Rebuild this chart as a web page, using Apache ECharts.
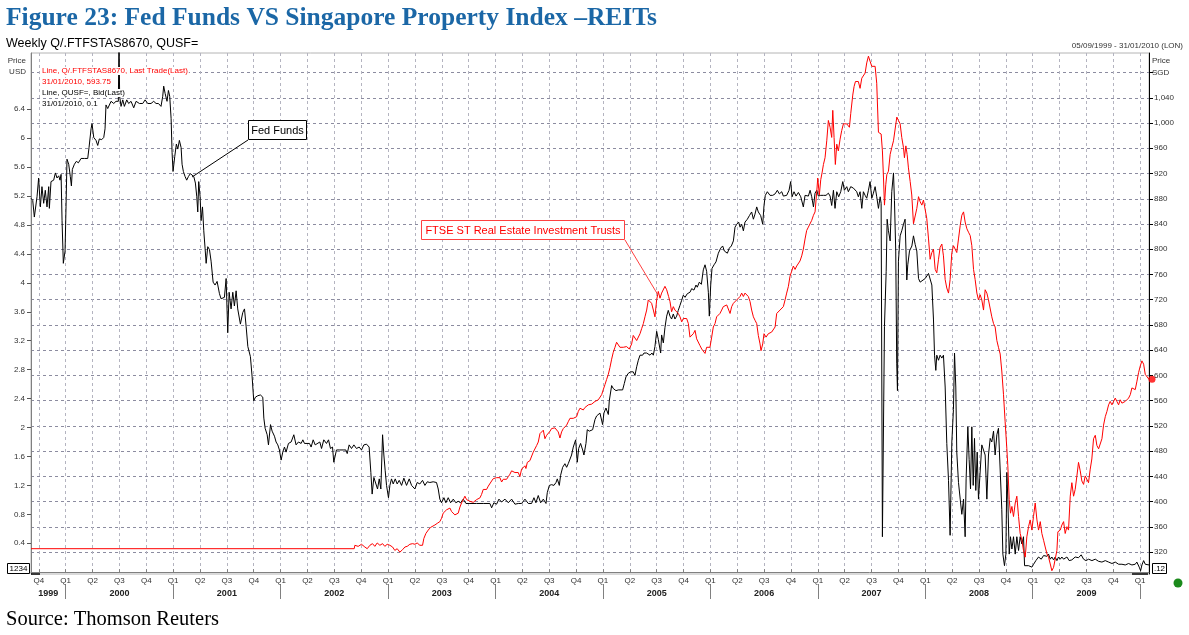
<!DOCTYPE html>
<html><head><meta charset="utf-8">
<script src="https://cdn.jsdelivr.net/npm/echarts@6/dist/echarts.min.js"></script>
<style>html,body{margin:0;padding:0;background:#fff}#c{width:1189px;height:635px}</style>
</head><body><div id="c"></div>
<script>
// Fed Funds (QUSF=, Bid) weekly, [decimal year, %]
const fedFunds = [
[1999.677,5.17],[1999.693,5.14],[1999.708,4.91],[1999.733,5.19],[1999.748,5.45],[1999.764,5.05],[1999.779,5.33],[1999.795,5.10],[1999.810,5.28],[1999.826,5.05],[1999.842,5.33],[1999.848,5.03],[1999.863,5.40],[1999.888,5.42],[1999.904,5.52],[1999.919,5.45],[1999.935,5.48],[1999.947,5.42],[1999.957,5.50],[1999.966,4.86],[1999.978,4.27],[1999.994,4.44],
[2000.003,5.05],[2000.012,5.71],[2000.028,5.64],[2000.043,5.47],[2000.053,5.34],[2000.062,5.57],[2000.081,5.64],[2000.099,5.68],[2000.118,5.66],[2000.143,5.72],[2000.174,5.72],[2000.205,5.72],[2000.217,5.87],[2000.236,6.13],[2000.245,6.20],[2000.261,6.01],[2000.282,5.97],[2000.298,5.90],[2000.313,5.99],[2000.335,5.98],[2000.354,6.01],[2000.366,6.13],[2000.375,6.46],[2000.391,6.41],[2000.422,6.51],[2000.447,6.48],[2000.468,6.51],[2000.490,6.51],[2000.496,7.40],[2000.502,6.58],[2000.515,6.44],[2000.531,6.53],[2000.546,6.44],[2000.568,6.53],[2000.586,6.48],[2000.608,6.51],[2000.633,6.42],[2000.655,6.51],[2000.686,6.48],[2000.717,6.48],[2000.739,6.53],[2000.763,6.48],[2000.794,6.48],[2000.819,6.51],[2000.841,6.48],[2000.863,6.48],[2000.887,6.44],[2000.903,6.58],[2000.912,6.72],[2000.925,6.62],[2000.943,6.51],[2000.956,6.66],[2000.968,6.58],[2000.981,6.27],[2000.990,5.80],[2000.999,5.54],
[2001.015,5.75],[2001.030,5.92],[2001.043,5.85],[2001.058,5.97],[2001.074,5.87],[2001.083,5.64],[2001.095,5.54],[2001.111,5.47],[2001.126,5.42],[2001.142,5.47],[2001.160,5.51],[2001.176,5.53],[2001.192,5.47],[2001.207,5.38],[2001.220,5.19],[2001.229,4.98],[2001.238,5.40],[2001.251,5.19],[2001.260,4.86],[2001.273,5.05],[2001.285,4.72],[2001.297,4.48],[2001.307,4.27],[2001.322,4.50],[2001.338,4.46],[2001.353,4.30],[2001.372,4.01],[2001.390,3.97],[2001.409,4.02],[2001.431,3.85],[2001.446,3.78],[2001.477,3.80],[2001.493,4.06],[2001.508,3.31],[2001.521,3.87],[2001.539,3.64],[2001.555,3.87],[2001.570,3.68],[2001.586,3.89],[2001.601,3.64],[2001.626,3.43],[2001.648,3.59],[2001.664,3.64],[2001.679,3.40],[2001.695,3.12],[2001.719,2.98],[2001.735,2.70],[2001.750,2.37],[2001.766,2.42],[2001.788,2.44],[2001.812,2.45],[2001.834,2.42],[2001.844,2.13],[2001.856,1.99],[2001.875,1.90],[2001.887,1.76],[2001.906,2.04],[2001.921,1.95],[2001.943,1.88],[2001.958,1.80],[2001.974,1.76],[2001.989,1.69],
[2002.005,1.55],[2002.020,1.66],[2002.036,1.73],[2002.051,1.66],[2002.073,1.78],[2002.098,1.80],[2002.123,1.90],[2002.144,1.76],[2002.166,1.80],[2002.191,1.78],[2002.207,1.83],[2002.222,1.78],[2002.238,1.80],[2002.269,1.78],[2002.284,1.73],[2002.303,1.83],[2002.322,1.76],[2002.340,1.76],[2002.365,1.80],[2002.381,1.71],[2002.402,1.83],[2002.427,1.78],[2002.446,1.83],[2002.464,1.71],[2002.483,1.73],[2002.495,1.52],[2002.520,1.69],[2002.551,1.69],[2002.582,1.69],[2002.607,1.69],[2002.620,1.64],[2002.638,1.76],[2002.660,1.71],[2002.682,1.76],[2002.706,1.71],[2002.731,1.73],[2002.753,1.69],[2002.775,1.76],[2002.800,1.77],[2002.824,1.73],[2002.840,1.38],[2002.852,1.08],[2002.868,1.31],[2002.886,1.29],[2002.902,1.15],[2002.918,1.29],[2002.933,1.15],[2002.949,1.90],[2002.961,1.62],[2002.973,1.41],[2002.986,1.20],
[2003.004,1.03],[2003.017,1.20],[2003.032,1.29],[2003.048,1.22],[2003.067,1.29],[2003.085,1.22],[2003.104,1.27],[2003.126,1.20],[2003.147,1.30],[2003.172,1.20],[2003.197,1.29],[2003.219,1.20],[2003.250,1.15],[2003.271,1.24],[2003.296,1.22],[2003.321,1.27],[2003.343,1.20],[2003.365,1.25],[2003.389,1.24],[2003.420,1.25],[2003.451,1.24],[2003.467,1.15],[2003.482,1.01],[2003.498,0.96],[2003.520,1.03],[2003.538,0.96],[2003.560,1.03],[2003.582,0.96],[2003.607,1.01],[2003.631,0.96],[2003.653,0.98],[2003.675,0.96],[2003.700,1.01],[2003.725,0.95],[2003.762,0.95],[2003.824,0.95],[2003.886,0.95],[2003.948,0.95],[2003.964,0.89],[2003.985,0.96],
[2004.010,0.94],[2004.032,1.01],[2004.057,0.97],[2004.088,1.01],[2004.119,0.96],[2004.150,1.01],[2004.181,0.94],[2004.212,0.95],[2004.243,0.95],[2004.274,1.01],[2004.305,0.95],[2004.336,0.95],[2004.358,1.03],[2004.376,0.96],[2004.398,1.06],[2004.420,0.96],[2004.445,1.01],[2004.470,0.95],[2004.482,1.10],[2004.501,1.20],[2004.522,1.21],[2004.544,1.20],[2004.563,1.24],[2004.575,1.29],[2004.594,1.20],[2004.606,1.34],[2004.625,1.45],[2004.646,1.50],[2004.662,1.45],[2004.677,1.50],[2004.693,1.52],[2004.708,1.62],[2004.724,1.73],[2004.746,1.83],[2004.761,1.52],[2004.774,1.71],[2004.792,1.78],[2004.811,1.69],[2004.823,1.62],[2004.842,1.78],[2004.854,1.97],[2004.873,1.95],[2004.904,1.97],[2004.926,2.11],[2004.941,2.16],[2004.972,2.20],[2004.997,2.04],
[2005.009,2.20],[2005.028,2.27],[2005.050,2.18],[2005.059,2.37],[2005.081,2.58],[2005.096,2.54],[2005.121,2.51],[2005.143,2.52],[2005.183,2.52],[2005.199,2.61],[2005.214,2.70],[2005.236,2.75],[2005.258,2.77],[2005.282,2.77],[2005.298,2.72],[2005.314,2.84],[2005.329,2.93],[2005.345,3.00],[2005.369,3.00],[2005.382,3.03],[2005.407,3.03],[2005.438,3.00],[2005.456,3.03],[2005.469,3.00],[2005.484,3.12],[2005.500,3.33],[2005.515,3.22],[2005.525,3.22],[2005.537,3.03],[2005.546,3.28],[2005.562,3.17],[2005.577,3.38],[2005.593,3.54],[2005.608,3.62],[2005.624,3.54],[2005.639,3.50],[2005.655,3.57],[2005.670,3.50],[2005.686,3.54],[2005.701,3.62],[2005.717,3.69],[2005.733,3.76],[2005.748,3.83],[2005.764,3.80],[2005.785,3.85],[2005.810,3.87],[2005.826,3.92],[2005.847,3.90],[2005.866,3.97],[2005.878,3.94],[2005.897,4.01],[2005.916,3.98],[2005.934,4.18],[2005.950,4.25],[2005.965,4.16],[2005.981,3.87],[2005.990,3.54],
[2006.003,3.97],[2006.015,4.20],[2006.034,4.25],[2006.052,4.29],[2006.074,4.41],[2006.096,4.48],[2006.114,4.51],[2006.130,4.44],[2006.145,4.46],[2006.158,4.41],[2006.176,4.48],[2006.195,4.51],[2006.214,4.58],[2006.229,4.77],[2006.245,4.81],[2006.263,4.84],[2006.276,4.77],[2006.291,4.81],[2006.307,4.72],[2006.322,4.84],[2006.344,4.88],[2006.363,4.93],[2006.384,4.98],[2006.400,4.88],[2006.415,4.95],[2006.431,5.05],[2006.446,4.98],[2006.468,4.93],[2006.487,4.81],[2006.499,5.07],[2006.511,5.21],[2006.530,5.26],[2006.555,5.21],[2006.580,5.21],[2006.602,5.23],[2006.623,5.28],[2006.642,5.23],[2006.664,5.26],[2006.679,5.20],[2006.710,5.21],[2006.732,5.28],[2006.747,5.40],[2006.760,5.19],[2006.778,5.26],[2006.797,5.20],[2006.819,5.25],[2006.841,5.19],[2006.865,5.05],[2006.881,5.21],[2006.896,5.19],[2006.912,5.20],[2006.928,5.28],[2006.943,5.19],[2006.959,5.05],[2006.974,5.24],[2006.990,5.28],
[2007.005,5.20],[2007.027,5.21],[2007.052,5.21],[2007.076,5.21],[2007.098,5.24],[2007.114,5.20],[2007.129,5.07],[2007.145,5.28],[2007.160,5.03],[2007.176,5.26],[2007.194,5.19],[2007.213,5.26],[2007.232,5.40],[2007.247,5.28],[2007.269,5.33],[2007.284,5.26],[2007.306,5.33],[2007.331,5.31],[2007.346,5.33],[2007.362,5.26],[2007.377,5.19],[2007.393,5.26],[2007.409,5.03],[2007.424,5.26],[2007.440,5.21],[2007.455,5.17],[2007.471,5.28],[2007.486,5.40],[2007.502,5.17],[2007.517,5.24],[2007.533,5.33],[2007.548,5.19],[2007.564,5.03],[2007.580,5.19],[2007.589,5.10],[2007.601,0.49],[2007.620,3.40],[2007.636,4.16],[2007.645,4.88],[2007.657,4.72],[2007.673,4.58],[2007.688,5.26],[2007.704,5.52],[2007.713,5.14],[2007.725,4.44],[2007.734,2.89],[2007.741,2.51],[2007.750,4.30],[2007.766,4.65],[2007.781,4.72],[2007.797,4.81],[2007.812,4.88],[2007.828,4.04],[2007.837,4.25],[2007.853,4.44],[2007.875,4.51],[2007.890,4.65],[2007.906,4.53],[2007.921,4.44],[2007.937,4.06],[2007.952,4.01],[2007.968,4.01],[2007.999,4.06],
[2008.030,4.13],[2008.045,4.13],[2008.061,3.97],[2008.076,3.50],[2008.086,3.00],[2008.098,2.79],[2008.107,3.00],[2008.123,2.93],[2008.138,3.00],[2008.154,2.96],[2008.169,3.00],[2008.185,2.56],[2008.200,1.78],[2008.216,1.27],[2008.231,0.51],[2008.247,1.80],[2008.262,2.25],[2008.272,3.03],[2008.284,2.56],[2008.293,1.66],[2008.309,1.24],[2008.325,1.01],[2008.340,0.80],[2008.356,1.01],[2008.371,0.49],[2008.380,1.29],[2008.396,2.01],[2008.408,1.56],[2008.421,1.15],[2008.433,2.01],[2008.446,1.20],[2008.458,1.85],[2008.470,1.13],[2008.483,1.66],[2008.495,1.01],[2008.511,1.01],[2008.526,1.76],[2008.542,1.76],[2008.557,1.62],[2008.573,1.01],[2008.588,1.62],[2008.604,1.85],[2008.619,1.80],[2008.635,1.95],[2008.650,1.62],[2008.666,1.90],[2008.681,1.99],[2008.697,2.01],[2008.712,0.87],[2008.722,0.25],[2008.737,0.09],[2008.750,0.25],[2008.759,1.38],[2008.768,1.01],[2008.781,0.25],[2008.793,0.49],[2008.806,0.32],[2008.821,0.49],[2008.837,0.25],[2008.852,0.49],[2008.868,0.30],[2008.883,0.49],[2008.899,0.39],[2008.914,0.49],[2008.924,0.09],[2008.961,0.09],[2008.992,0.07],
[2009.008,0.11],[2009.029,0.16],[2009.054,0.21],[2009.079,0.18],[2009.101,0.23],[2009.116,0.25],[2009.132,0.22],[2009.147,0.25],[2009.163,0.18],[2009.178,0.21],[2009.194,0.17],[2009.209,0.21],[2009.225,0.16],[2009.240,0.21],[2009.256,0.18],[2009.271,0.21],[2009.287,0.18],[2009.302,0.16],[2009.318,0.21],[2009.339,0.16],[2009.364,0.17],[2009.395,0.21],[2009.426,0.20],[2009.451,0.24],[2009.473,0.18],[2009.495,0.16],[2009.520,0.18],[2009.551,0.16],[2009.582,0.18],[2009.613,0.15],[2009.644,0.14],[2009.675,0.16],[2009.706,0.14],[2009.737,0.12],[2009.768,0.14],[2009.799,0.11],[2009.830,0.11],[2009.861,0.10],[2009.892,0.12],[2009.923,0.10],[2009.954,0.11],[2009.969,0.14],[2009.991,0.07],[2010.004,0.02],[2010.016,0.10],[2010.032,0.16],[2010.047,0.11],[2010.063,0.10],[2010.082,0.10]
];

// FTSE ST Real Estate Investment Trusts (Q/.FTFSTAS8670) weekly, [decimal year, SGD]
const reitIndex = [
[1999.677,325.4],[2002.685,325.4],[2002.691,330.8],[2002.722,329.1],[2002.753,332.4],[2002.784,328.1],[2002.806,325.4],[2002.831,330.8],[2002.855,333.4],[2002.877,329.1],[2002.899,334.5],[2002.924,330.8],[2002.949,333.4],[2002.970,329.1],[2002.992,332.4],
[2003.017,330.8],[2003.042,328.1],[2003.063,322.7],[2003.085,325.4],[2003.110,320.0],[2003.135,323.8],[2003.157,328.1],[2003.178,329.1],[2003.203,332.4],[2003.228,333.4],[2003.250,332.4],[2003.271,334.5],[2003.296,330.8],[2003.321,330.8],[2003.333,341.5],[2003.352,349.5],[2003.374,354.9],[2003.396,359.2],[2003.414,360.3],[2003.436,363.0],[2003.458,365.6],[2003.482,368.3],[2003.498,373.7],[2003.513,381.7],[2003.529,379.0],[2003.545,387.1],[2003.560,386.0],[2003.576,389.8],[2003.591,384.4],[2003.607,381.7],[2003.622,379.0],[2003.638,376.4],[2003.653,381.7],[2003.669,391.4],[2003.684,397.8],[2003.700,403.2],[2003.715,408.6],[2003.731,403.2],[2003.746,405.9],[2003.762,400.5],[2003.777,402.1],[2003.793,398.9],[2003.808,400.5],[2003.824,403.2],[2003.839,402.1],[2003.855,405.9],[2003.870,411.2],[2003.886,419.3],[2003.902,422.0],[2003.917,419.3],[2003.933,424.6],[2003.948,427.3],[2003.964,432.7],[2003.979,436.4],[2003.995,435.4],
[2004.010,438.0],[2004.026,435.4],[2004.041,438.0],[2004.057,431.1],[2004.072,435.4],[2004.088,432.7],[2004.103,435.4],[2004.119,439.6],[2004.134,443.4],[2004.150,448.8],[2004.165,451.5],[2004.181,446.1],[2004.196,443.4],[2004.212,446.1],[2004.227,439.6],[2004.243,451.5],[2004.258,454.1],[2004.274,456.8],[2004.283,452.5],[2004.296,462.2],[2004.308,459.5],[2004.320,464.9],[2004.336,467.6],[2004.351,478.3],[2004.367,481.0],[2004.383,489.0],[2004.398,494.4],[2004.414,507.8],[2004.429,505.1],[2004.445,513.2],[2004.460,499.7],[2004.476,505.1],[2004.491,507.8],[2004.507,511.5],[2004.522,515.8],[2004.538,513.2],[2004.553,516.9],[2004.569,515.8],[2004.584,510.5],[2004.600,500.8],[2004.615,510.5],[2004.631,515.8],[2004.646,518.5],[2004.662,521.2],[2004.677,526.6],[2004.693,532.0],[2004.708,534.6],[2004.724,532.0],[2004.739,529.3],[2004.755,534.6],[2004.770,542.7],[2004.786,548.0],[2004.801,550.7],[2004.817,545.3],[2004.832,549.1],[2004.848,548.0],[2004.864,553.4],[2004.879,550.7],[2004.895,554.5],[2004.910,553.4],[2004.926,558.8],[2004.941,556.1],[2004.957,561.4],[2004.972,564.1],[2004.988,569.5],
[2005.003,577.5],[2005.019,585.6],[2005.034,593.6],[2005.050,601.7],[2005.065,612.4],[2005.081,625.8],[2005.096,636.6],[2005.112,644.6],[2005.127,652.6],[2005.143,649.9],[2005.158,644.6],[2005.174,647.3],[2005.189,644.6],[2005.205,647.3],[2005.220,645.7],[2005.236,647.3],[2005.245,641.9],[2005.258,639.2],[2005.267,649.9],[2005.282,663.4],[2005.298,660.7],[2005.314,655.3],[2005.329,658.0],[2005.345,666.1],[2005.360,674.1],[2005.376,682.2],[2005.391,692.9],[2005.407,703.6],[2005.422,719.7],[2005.438,722.4],[2005.453,714.3],[2005.469,703.6],[2005.484,692.9],[2005.500,719.7],[2005.515,733.1],[2005.531,722.4],[2005.546,730.5],[2005.562,727.8],[2005.577,741.2],[2005.593,735.8],[2005.602,738.5],[2005.611,725.1],[2005.624,717.0],[2005.639,700.9],[2005.655,709.0],[2005.670,703.6],[2005.686,706.3],[2005.701,698.2],[2005.717,692.9],[2005.733,684.9],[2005.748,690.2],[2005.764,687.5],[2005.779,690.2],[2005.795,682.2],[2005.810,660.7],[2005.826,658.0],[2005.841,666.1],[2005.857,671.4],[2005.872,658.0],[2005.888,655.3],[2005.903,647.3],[2005.919,641.9],[2005.934,639.2],[2005.950,634.9],[2005.965,644.6],[2005.981,641.9],[2005.996,644.6],
[2006.012,660.7],[2006.027,676.8],[2006.043,682.2],[2006.058,692.9],[2006.074,690.2],[2006.089,698.2],[2006.105,703.6],[2006.120,709.0],[2006.136,706.3],[2006.152,711.7],[2006.167,714.3],[2006.183,698.2],[2006.198,709.0],[2006.214,714.3],[2006.229,717.0],[2006.245,719.7],[2006.260,722.4],[2006.276,725.1],[2006.291,730.5],[2006.307,725.1],[2006.322,730.5],[2006.338,727.8],[2006.353,725.1],[2006.369,717.0],[2006.384,703.6],[2006.400,692.9],[2006.415,687.5],[2006.431,682.2],[2006.446,663.4],[2006.462,649.9],[2006.471,639.2],[2006.487,649.9],[2006.499,666.1],[2006.518,660.7],[2006.539,666.1],[2006.555,663.4],[2006.570,668.7],[2006.586,671.4],[2006.602,676.8],[2006.617,698.2],[2006.633,700.9],[2006.648,703.6],[2006.664,700.9],[2006.679,709.0],[2006.695,719.7],[2006.710,730.5],[2006.726,741.2],[2006.741,757.3],[2006.757,765.3],[2006.772,773.4],[2006.788,768.0],[2006.803,773.4],[2006.819,776.0],[2006.834,781.4],[2006.850,789.5],[2006.865,800.2],[2006.881,816.3],[2006.896,829.7],[2006.912,835.1],[2006.928,837.7],[2006.943,845.8],[2006.959,853.8],[2006.974,859.2],[2006.990,891.4],
[2006.999,912.9],[2007.014,886.0],[2007.027,910.2],[2007.039,920.9],[2007.052,934.3],[2007.067,945.0],[2007.083,971.9],[2007.098,1004.1],[2007.114,993.3],[2007.129,977.2],[2007.139,1020.1],[2007.151,977.2],[2007.163,934.3],[2007.176,966.5],[2007.191,955.8],[2007.207,974.5],[2007.222,988.0],[2007.238,998.7],[2007.253,996.0],[2007.269,998.7],[2007.284,997.6],[2007.294,993.3],[2007.306,1014.8],[2007.325,1044.3],[2007.337,1057.7],[2007.350,1065.8],[2007.362,1063.1],[2007.377,1065.8],[2007.393,1055.0],[2007.409,1071.1],[2007.424,1073.8],[2007.440,1079.2],[2007.455,1095.3],[2007.471,1106.0],[2007.486,1097.9],[2007.502,1089.9],[2007.517,1092.6],[2007.533,1089.9],[2007.548,1063.1],[2007.564,985.3],[2007.589,982.6],[2007.601,955.8],[2007.611,912.9],[2007.620,869.9],[2007.632,902.1],[2007.642,918.2],[2007.657,923.6],[2007.673,950.4],[2007.688,961.1],[2007.704,971.9],[2007.719,974.5],[2007.735,1009.4],[2007.750,1004.1],[2007.766,998.7],[2007.781,977.2],[2007.797,961.1],[2007.806,945.0],[2007.819,963.8],[2007.831,950.4],[2007.843,928.9],[2007.859,907.5],[2007.874,886.0],[2007.890,840.4],[2007.906,843.1],[2007.921,864.6],[2007.937,883.3],[2007.952,875.3],[2007.968,869.9],[2007.983,878.0],[2007.999,875.3],
[2008.014,848.5],[2008.030,816.3],[2008.045,784.1],[2008.061,794.8],[2008.076,800.2],[2008.092,768.0],[2008.107,762.6],[2008.123,784.1],[2008.138,802.9],[2008.154,808.2],[2008.169,789.5],[2008.185,751.9],[2008.200,738.5],[2008.216,730.5],[2008.231,751.9],[2008.247,794.8],[2008.262,805.6],[2008.278,800.2],[2008.293,794.8],[2008.309,816.3],[2008.325,837.7],[2008.340,853.8],[2008.356,859.2],[2008.371,843.1],[2008.387,832.4],[2008.402,827.0],[2008.418,821.6],[2008.433,805.6],[2008.449,768.0],[2008.464,751.9],[2008.480,730.5],[2008.495,719.7],[2008.511,727.8],[2008.526,719.7],[2008.542,703.6],[2008.557,735.8],[2008.573,730.5],[2008.588,719.7],[2008.604,722.4],[2008.619,692.9],[2008.635,682.2],[2008.650,676.8],[2008.666,655.3],[2008.681,644.6],[2008.697,633.9],[2008.712,607.0],[2008.728,569.5],[2008.743,526.6],[2008.759,483.7],[2008.768,456.8],[2008.781,403.2],[2008.793,381.7],[2008.806,392.4],[2008.821,376.4],[2008.837,397.8],[2008.852,408.6],[2008.868,376.4],[2008.883,349.5],[2008.899,338.8],[2008.914,322.7],[2008.930,312.0],[2008.945,344.2],[2008.961,360.3],[2008.976,371.0],[2008.992,354.9],
[2009.007,376.4],[2009.023,397.8],[2009.039,371.0],[2009.054,354.9],[2009.070,368.3],[2009.085,349.5],[2009.101,338.8],[2009.116,328.1],[2009.132,317.3],[2009.147,312.0],[2009.163,301.2],[2009.178,290.5],[2009.194,295.9],[2009.209,293.2],[2009.225,322.7],[2009.234,352.2],[2009.256,354.9],[2009.271,362.9],[2009.287,368.3],[2009.302,349.5],[2009.318,360.3],[2009.333,354.9],[2009.349,408.6],[2009.364,430.0],[2009.380,408.6],[2009.395,419.3],[2009.411,440.7],[2009.426,462.2],[2009.442,448.8],[2009.457,432.7],[2009.473,427.3],[2009.488,440.7],[2009.504,435.4],[2009.519,430.0],[2009.535,451.5],[2009.550,467.6],[2009.566,499.7],[2009.582,505.1],[2009.597,489.0],[2009.613,483.7],[2009.628,483.7],[2009.644,499.7],[2009.659,521.2],[2009.675,534.6],[2009.690,542.7],[2009.706,553.4],[2009.721,558.8],[2009.737,553.4],[2009.752,550.7],[2009.768,564.1],[2009.783,558.8],[2009.799,553.4],[2009.814,561.4],[2009.830,556.1],[2009.845,553.4],[2009.861,558.8],[2009.876,558.8],[2009.892,564.1],[2009.908,569.5],[2009.923,580.2],[2009.939,582.9],[2009.954,577.5],[2009.970,590.9],[2009.985,604.4],[2010.001,615.1],[2010.016,623.1],[2010.032,617.8],[2010.047,601.7],[2010.082,593.75]
];

// tick labels
const leftTicks = [0.4,0.8,1.2,1.6,2,2.4,2.8,3.2,3.6,4,4.4,4.8,5.2,5.6,6,6.4];
const rightTicks = [320,360,400,440,480,520,560,600,640,680,720,760,800,840,880,920,960,1000,1040,1080];
const rightLabelled = [320,360,400,440,480,520,560,600,640,680,720,760,800,840,880,920,960,1000,1040];
const quarterNames = ['Q1','Q2','Q3','Q4'];
const yearNames = ['1999','2000','2001','2002','2003','2004','2005','2006','2007','2008','2009'];
const legendLines = [
  {text:'Line, Q/.FTFSTAS8670, Last Trade(Last)', color:'#ff0000'},
  {text:'31/01/2010, 593.75', color:'#ff0000'},
  {text:'Line, QUSF=, Bid(Last)', color:'#000000'},
  {text:'31/01/2010, 0.1', color:'#000000'}
];

const xStart = fedFunds[0][0];
const xEnd = fedFunds[fedFunds.length - 1][0];
const quarterTicks = [];
yearNames.concat(['2010']).forEach(function (y) {
  for (let q = 0; q < 4; q++) {
    const v = Number(y) + q / 4;
    if (v >= xStart && v <= xEnd) quarterTicks.push(v);
  }
});
const yearTicks = yearNames.slice(1).map(Number).concat([2010]);
const yearLabelPos = yearNames.map(function (y) {
  const s = Math.max(Number(y), xStart), e = Math.min(Number(y) + 1, xEnd);
  return (s + e) / 2;
});

const LBL = '"Liberation Sans", Arial, sans-serif';
const chart = echarts.init(document.getElementById('c'), null, {renderer: 'canvas'});

const graphics = [
  {type:'text', x:6, y:18, style:{text:'Figure 23: Fed Funds VS Singapore Property Index \u2013REITs', font:'bold 25.5px "Liberation Serif", "Times New Roman", serif', fill:'#1b67a6', verticalAlign:'middle'}},
  {type:'text', x:6, y:44, style:{text:'Weekly Q/.FTFSTAS8670, QUSF=', font:'12.5px ' + LBL, fill:'#000', verticalAlign:'middle'}},
  {type:'text', x:1183, y:46, style:{text:'05/09/1999 - 31/01/2010 (LON)', font:'8px ' + LBL, fill:'#333', align:'right', verticalAlign:'middle'}},
  {type:'text', x:26, y:61, style:{text:'Price', font:'8px ' + LBL, fill:'#333', align:'right', verticalAlign:'middle'}},
  {type:'text', x:26, y:72, style:{text:'USD', font:'8px ' + LBL, fill:'#333', align:'right', verticalAlign:'middle'}},
  {type:'text', x:1152, y:61, style:{text:'Price', font:'8px ' + LBL, fill:'#333', verticalAlign:'middle'}},
  {type:'text', x:1152, y:73, style:{text:'SGD', font:'8px ' + LBL, fill:'#333', verticalAlign:'middle'}},
  // annotation: Fed Funds
  {type:'line', shape:{x1:248, y1:140, x2:192, y2:177}, style:{stroke:'#000', lineWidth:1}, z:20},
  {type:'rect', shape:{x:248.5, y:120.5, width:58, height:19}, style:{fill:'#fff', stroke:'#000', lineWidth:1}, z:21},
  {type:'text', x:277.5, y:130.5, style:{text:'Fed Funds', font:'11px ' + LBL, fill:'#000', align:'center', verticalAlign:'middle'}, z:22},
  // annotation: REITs
  {type:'line', shape:{x1:625, y1:240, x2:658, y2:295}, style:{stroke:'#ff4040', lineWidth:1}, z:20},
  {type:'rect', shape:{x:421.5, y:220.5, width:203, height:19}, style:{fill:'#fff', stroke:'#ff4040', lineWidth:1}, z:21},
  {type:'text', x:523, y:230.5, style:{text:'FTSE ST Real Estate Investment Trusts', font:'11px ' + LBL, fill:'#ff0000', align:'center', verticalAlign:'middle'}, z:22},
  // corner boxes
  {type:'rect', shape:{x:7.5, y:563.5, width:22, height:10}, style:{fill:'#fff', stroke:'#000', lineWidth:1}, z:21},
  {type:'text', x:18.5, y:569, style:{text:'1234', font:'8px ' + LBL, fill:'#000', align:'center', verticalAlign:'middle'}, z:22},
  {type:'rect', shape:{x:1152.5, y:563.5, width:14, height:10}, style:{fill:'#fff', stroke:'#000', lineWidth:1}, z:21},
  {type:'text', x:1159.5, y:569, style:{text:'.12', font:'8px ' + LBL, fill:'#000', align:'center', verticalAlign:'middle'}, z:22},
  {type:'line', shape:{x1:31, y1:574, x2:40, y2:574}, style:{stroke:'#000', lineWidth:1.5}, z:20},
  {type:'line', shape:{x1:1132, y1:574, x2:1148, y2:574}, style:{stroke:'#000', lineWidth:1.5}, z:20},
  {type:'circle', shape:{cx:1178, cy:583, r:4.5}, style:{fill:'#1b8a1b'}, z:20},
  {type:'text', x:6, y:620, style:{text:'Source: Thomson Reuters', font:'20.5px "Liberation Serif", "Times New Roman", serif', fill:'#000', verticalAlign:'middle'}}
];
legendLines.forEach(function (l, i) {
  graphics.push({type:'text', x:41, y:71 + i * 11, z:19,
    style:{text:l.text, font:'8px ' + LBL, fill:l.color, verticalAlign:'middle', backgroundColor:'#fff', padding:[0,1]}});
});

function fmtRight(v) {
  if (rightLabelled.indexOf(v) < 0) return '';
  return v >= 1000 ? Math.floor(v / 1000) + ',' + String(v % 1000).padStart(3, '0') : String(v);
}

chart.setOption({
  animation: false,
  backgroundColor: '#fff',
  grid: {left: 31, right: 40, top: 53, bottom: 61, show: true, borderColor: '#b4b4b4', borderWidth: 1, containLabel: false, outerBoundsMode: 'none'},
  xAxis: [{
    type: 'value', min: xStart, max: xEnd, position: 'bottom',
    axisLine: {show: true, lineStyle: {color: '#808080', width: 1}},
    axisTick: {show: true, inside: true, length: 3, customValues: quarterTicks, lineStyle: {color: '#808080'}},
    axisLabel: {customValues: quarterTicks, margin: 3, fontSize: 8, color: '#333', fontFamily: 'Liberation Sans',
      formatter: function (v) { const q = Math.round((v - Math.floor(v + 0.001)) * 4); return quarterNames[(q + 4) % 4]; }},
    splitLine: {show: true, lineStyle: {type: [3, 3], color: '#b4b4c0', width: 1}}
  }, {
    type: 'value', min: xStart, max: xEnd, position: 'bottom', offset: 10,
    axisLine: {show: false},
    axisTick: {show: true, customValues: yearTicks, length: 15, lineStyle: {color: '#808080'}},
    axisLabel: {customValues: yearLabelPos, margin: 5, fontSize: 9, fontWeight: 'bold', color: '#222', fontFamily: 'Liberation Sans',
      formatter: function (v) { return String(Math.floor(v)); }},
    splitLine: {show: false}
  }],
  yAxis: [{
    type: 'value', min: -0.025, max: 7.178, position: 'left',
    axisLine: {show: true, lineStyle: {color: '#808080'}},
    axisTick: {show: true, length: 4, customValues: leftTicks, lineStyle: {color: '#555'}},
    axisLabel: {customValues: leftTicks, margin: 6, fontSize: 8, color: '#333', fontFamily: 'Liberation Sans',
      formatter: function (v) { return String(+v.toFixed(1)); }},
    splitLine: {show: false}
  }, {
    type: 'value', min: 285.3, max: 1111.0, position: 'right',
    axisLine: {show: true, lineStyle: {color: '#000', width: 1}},
    axisTick: {show: true, length: 4, customValues: rightTicks, lineStyle: {color: '#000'}},
    axisLabel: {customValues: rightTicks, margin: 5, fontSize: 8, color: '#333', fontFamily: 'Liberation Sans', formatter: fmtRight},
    splitLine: {show: true, lineStyle: {type: [3, 3], color: '#8c8ca0', width: 1}}
  }],
  series: [{
    name: 'Fed Funds', type: 'line', xAxisIndex: 0, yAxisIndex: 0, data: fedFunds,
    showSymbol: false, symbol: 'none', lineStyle: {color: '#000', width: 1}, z: 3, clip: true
  }, {
    name: 'FTSE ST REITs', type: 'line', xAxisIndex: 0, yAxisIndex: 1, data: reitIndex,
    showSymbol: false, symbol: 'none', lineStyle: {color: '#ff0000', width: 1}, z: 4, clip: true
  }, {
    name: 'last', type: 'scatter', xAxisIndex: 0, yAxisIndex: 1, data: [reitIndex[reitIndex.length - 1]],
    symbol: 'circle', symbolSize: 7, symbolOffset: [3, 0], itemStyle: {color: '#ff0000'}, z: 6, clip: false
  }],
  graphic: graphics
});
</script>
</body></html>
